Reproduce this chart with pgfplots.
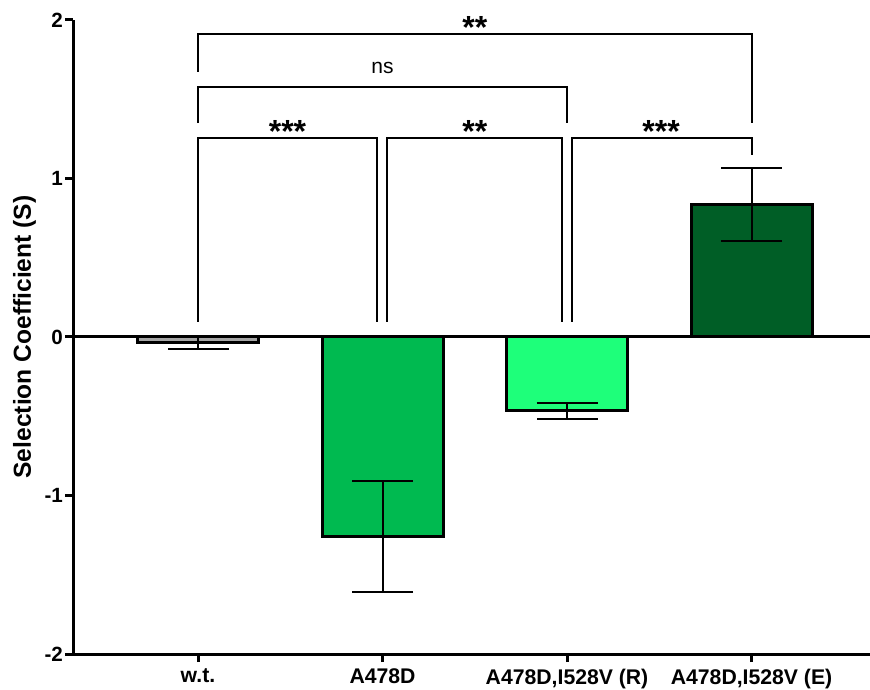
\documentclass[border=0pt]{standalone}
\usepackage{pgfplots}
\pgfplotsset{compat=1.18}
\usepackage{fontspec}
\setmainfont{Liberation Sans}
\definecolor{cwt}{RGB}{165,165,165}
\definecolor{ca}{RGB}{0,186,80}
\definecolor{cr}{RGB}{30,255,122}
\definecolor{ce}{RGB}{0,94,38}
\begin{document}
\begin{tikzpicture}
\begin{axis}[
  at={(0,0)}, anchor=south west,
  scale only axis, width=398.5pt, height=317pt,
  xmin=-0.6775, xmax=3.642, ymin=-2, ymax=2,
  axis lines*=left,
  axis line style={line width=1.5pt},
  xtick={0,1,2,3},
  xticklabels={w.t., A478D, {A478D,I528V (R)}, {A478D,I528V (E)}},
  ytick={-2,-1,0,1,2}, yticklabels={-2,-1,0,1,2},
  tick align=outside, major tick length=4pt,
  tick style={line width=1.5pt, black},
  xticklabel style={font=\bfseries\fontsize{10.6}{12}\selectfont},
  yticklabel style={font=\bfseries\fontsize{10.3}{12}\selectfont, xshift=2.5pt},
  ylabel={Selection Coefficient (S)},
  ylabel style={font=\bfseries\fontsize{12.3}{14}\selectfont, at={(axis description cs:-0.0527,0.5)}, anchor=base, rotate=0},
  clip=false,
  mybar/.style={ybar, bar width=60.5pt, bar shift=0pt, draw=black, line width=1.5pt,
    error bars/.cd, y dir=both, y explicit,
    error bar style={line width=1pt, black},
    error mark options={rotate=90, line width=1pt, black, mark size=15.25pt}},
]
\addplot[fill=cwt, mybar] coordinates {(0,-0.035) +- (0,0.04)};
\addplot[fill=ca, mybar] coordinates {(1,-1.26) +- (0,0.35)};
\addplot[fill=cr, mybar] coordinates {(2,-0.465) +- (0,0.05)};
\addplot[fill=ce, mybar] coordinates {(3,0.835) +- (0,0.23)};
\draw[line width=1.5pt] (axis cs:-0.6775,0) -- (axis cs:3.642,0);
% brackets
\draw[line width=1pt] (axis cs:0,0.095) -- (axis cs:0,1.255) -- (axis cs:0.97,1.255) -- (axis cs:0.97,0.095);
\draw[line width=1pt] (axis cs:1.025,0.095) -- (axis cs:1.025,1.255) -- (axis cs:1.975,1.255) -- (axis cs:1.975,0.095);
\draw[line width=1pt] (axis cs:2.025,0.095) -- (axis cs:2.025,1.255) -- (axis cs:3,1.255) -- (axis cs:3,1.15);
\draw[line width=1pt] (axis cs:0,1.35) -- (axis cs:0,1.577) -- (axis cs:2,1.577) -- (axis cs:2,1.35);
\draw[line width=1pt] (axis cs:0,1.672) -- (axis cs:0,1.912) -- (axis cs:3,1.912) -- (axis cs:3,1.35);
\node[font=\bfseries\fontsize{16}{16}\selectfont, anchor=base] at (axis cs:0.485,1.23) {***};
\node[font=\bfseries\fontsize{16}{16}\selectfont, anchor=base] at (axis cs:1.5,1.23) {**};
\node[font=\bfseries\fontsize{16}{16}\selectfont, anchor=base] at (axis cs:2.51,1.23) {***};
\node[font=\bfseries\fontsize{16}{16}\selectfont, anchor=base] at (axis cs:1.5,1.886) {**};
\node[font=\fontsize{10.5}{12}\selectfont] at (axis cs:1.0,1.70) {ns};
\end{axis}
\pgfresetboundingbox
\path (-36.5pt,-17.5pt) rectangle (398.5pt,327pt);
\end{tikzpicture}
\end{document}
